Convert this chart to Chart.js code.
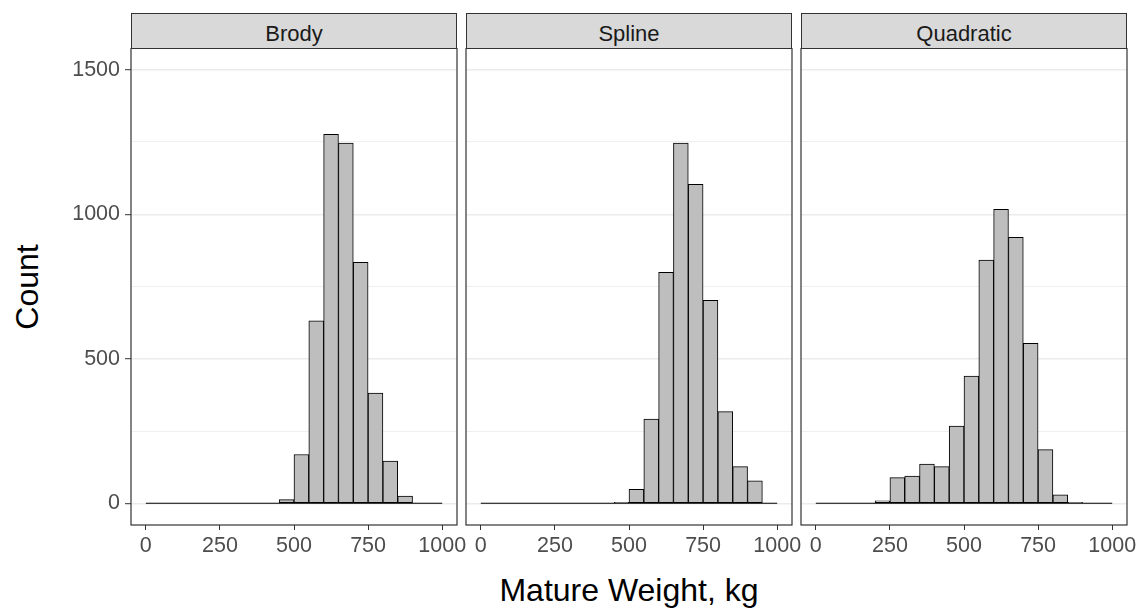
<!DOCTYPE html>
<html>
<head>
<meta charset="utf-8">
<script src="https://cdn.jsdelivr.net/npm/chart.js@4.4.1/dist/chart.umd.min.js"></script>
<style>
  body { margin: 0; background: #fff; }
  #wrap { position: relative; width: 1143px; height: 609px; overflow: hidden; background: #fff;
          font-family: "Liberation Sans", Arial, sans-serif; }
  canvas { position: absolute; }
  .strip { position: absolute; top: 13px; height: 36px; box-sizing: border-box;
           background: #d9d9d9; border: 1px solid #333; text-align: center;
           font-size: 22px; line-height: 22px; padding-top: 9px; color: #1a1a1a; }
  .title { position: absolute; font-size: 32px; line-height: 32px; color: #000; white-space: nowrap; }
</style>
</head>
<body>
<div id="wrap">
  <div class="title" id="ytitle" style="left:27px; top:287px; transform: translate(-50%, -50%) rotate(-90deg);">Count</div>
  <div class="title" style="left:629px; top:574px; transform: translateX(-50%);">Mature Weight, kg</div>
</div>
<script>
// histogram bins, 50 kg wide
const binStarts = [0, 50, 100, 150, 200, 250, 300, 350, 400, 450, 500, 550, 600, 650, 700, 750, 800, 850, 900, 950];
const binWidth = 50;

const panels = ["Brody", "Spline", "Quadratic"];
const brodyCounts = [0, 0, 0, 0, 0, 0, 0, 0, 0, 13, 169, 631, 1276, 1246, 834, 381, 146, 25, 0, 0];
const splineCounts = [0, 0, 0, 0, 0, 0, 0, 0, 0, 3, 48, 291, 799, 1246, 1103, 702, 317, 127, 78, 0];
const quadraticCounts = [0, 0, 0, 0, 9, 89, 94, 136, 127, 267, 440, 841, 1017, 920, 553, 186, 29, 3, 0, 0];
const allCounts = [brodyCounts, splineCounts, quadraticCounts];

const xTicks = [0, 250, 500, 750, 1000];
const yGrid = [0, 250, 500, 750, 1000, 1250, 1500];
const yLabels = [0, 500, 1000, 1500];

const panelLeft = [131, 466, 801];
const panelWidth = 326;
const pad = 30;

const panelBorder = {
  id: "panelBorder",
  afterDraw(chart) {
    const { ctx, chartArea: a } = chart;
    ctx.save();
    ctx.strokeStyle = "#333";
    ctx.lineWidth = 1.2;
    ctx.strokeRect(a.left, a.top, a.right - a.left, a.bottom - a.top);
    ctx.restore();
  }
};

const wrap = document.getElementById("wrap");

panels.forEach((name, i) => {
  const strip = document.createElement("div");
  strip.className = "strip";
  strip.style.left = panelLeft[i] + "px";
  strip.style.width = panelWidth + "px";
  strip.textContent = name;
  wrap.appendChild(strip);

  const first = i === 0;
  const cv = document.createElement("canvas");
  const w = (first ? panelLeft[0] : pad) + panelWidth + pad;
  cv.width = w;
  cv.height = 517;
  cv.style.width = w + "px";
  cv.style.height = "517px";
  cv.style.left = (first ? 0 : panelLeft[i] - pad) + "px";
  cv.style.top = "48px";
  wrap.appendChild(cv);

  const bars = binStarts.map((b, k) => ({ x: b + binWidth / 2, y: allCounts[i][k] }));
  const baseline = [
    { x: binStarts[0], y: 0 },
    { x: binStarts[binStarts.length - 1] + binWidth, y: 0 }
  ];

  new Chart(cv, {
    type: "bar",
    data: {
      datasets: [
        {
          type: "line",
          data: baseline,
          borderColor: "#000",
          borderWidth: 1.1,
          pointRadius: 0,
          order: 0
        },
        {
          data: bars,
          backgroundColor: "#bebebe",
          borderColor: "#000",
          borderWidth: 1,
          borderSkipped: false,
          barPercentage: 1,
          categoryPercentage: 1,
          order: 1
        }
      ]
    },
    options: {
      responsive: false,
      animation: false,
      layout: { padding: { left: first ? 0 : pad, right: pad, top: 0, bottom: 0 } },
      plugins: { legend: { display: false }, tooltip: { enabled: false } },
      scales: {
        x: {
          type: "linear",
          min: -50,
          max: 1050,
          offset: false,
          afterBuildTicks: s => { s.ticks = xTicks.map(v => ({ value: v })); },
          afterFit: s => { s.height = 40; s.paddingLeft = 0; s.paddingRight = 0; },
          border: { display: false },
          grid: { offset: false, drawOnChartArea: false, drawTicks: true, tickLength: 5, tickColor: "#333", tickWidth: 1 },
          ticks: {
            autoSkip: false,
            maxRotation: 0,
            padding: 3,
            color: "#4d4d4d",
            font: { family: "Liberation Sans", size: 21.5 },
            callback: v => String(v)
          }
        },
        y: {
          min: -75,
          max: 1575,
          afterBuildTicks: s => { s.ticks = yGrid.map(v => ({ value: v })); },
          afterFit: s => { s.width = first ? panelLeft[0] : 0; s.paddingTop = 0; s.paddingBottom = 0; },
          border: { display: false },
          grid: {
            color: "#ebebeb",
            lineWidth: c => (yLabels.includes(c.tick.value) ? 1.4 : 0.8),
            drawTicks: first,
            tickLength: 6,
            tickWidth: 1,
            tickColor: c => (yLabels.includes(c.tick.value) ? "#333" : "rgba(0,0,0,0)")
          },
          ticks: {
            display: first,
            padding: 5,
            color: "#4d4d4d",
            font: { family: "Liberation Sans", size: 21.5 },
            callback: v => (yLabels.includes(v) ? String(v) : "")
          }
        }
      }
    },
    plugins: [panelBorder]
  });
});
</script>
</body>
</html>
